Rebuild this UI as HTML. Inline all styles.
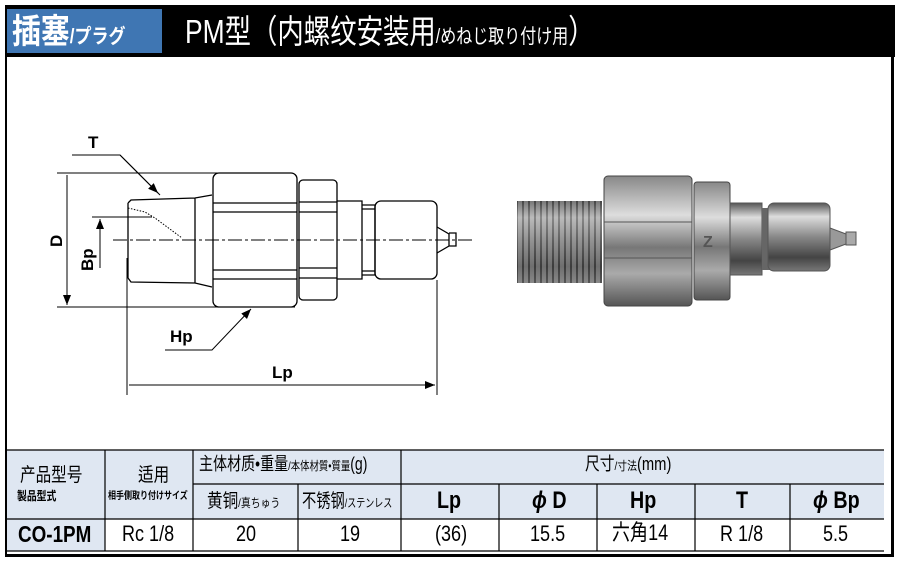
<!DOCTYPE html>
<html><head><meta charset="utf-8"><style>
body{margin:0;width:900px;height:567px;background:#fff;overflow:hidden;font-family:"Liberation Sans","Noto Sans CJK JP",sans-serif}
.t{position:absolute;font-family:"Liberation Sans","Noto Sans CJK JP",sans-serif;white-space:nowrap;line-height:1.1}
.c{transform:scaleX(.82);transform-origin:0 0}
</style></head><body>
<div style="position:absolute;left:5px;top:5px;width:890px;height:52px;background:#000"></div>
<div style="position:absolute;left:7px;top:9px;width:155px;height:44px;background:#3f76b3"></div>
<div class="t c" style="left:12px;top:12px;color:#fff;font-size:34px;font-weight:bold;line-height:40px;transform:scaleX(.85)">插塞<span style="font-size:20px">/プラグ</span></div>
<div class="t c" style="left:185px;top:12px;color:#fff;font-size:33px;line-height:40px;transform:scaleX(.8)">PM型（内螺纹安装用<span style="font-size:20px">/めねじ取り付け用</span>）</div>
<div style="position:absolute;left:5px;top:57px;width:884px;height:497px;border:2px solid #000;border-top:none;border-right:3px solid #000;border-bottom:3px solid #000"></div>

<svg style="position:absolute;left:0;top:0" width="900" height="567">
<defs>
<marker id="a" markerWidth="10" markerHeight="8" refX="10" refY="4" orient="auto" markerUnits="userSpaceOnUse"><path d="M0,0L10,4L0,8z" fill="#000"/></marker>
<linearGradient id="g" x1="0" y1="0" x2="0" y2="1"><stop offset="0" stop-color="#555"/><stop offset=".2" stop-color="#ddd"/><stop offset=".5" stop-color="#888"/><stop offset=".8" stop-color="#444"/><stop offset="1" stop-color="#777"/></linearGradient>
<linearGradient id="g2" x1="0" y1="0" x2="0" y2="1"><stop offset="0" stop-color="#888"/><stop offset=".3" stop-color="#ddd"/><stop offset=".55" stop-color="#777"/><stop offset=".75" stop-color="#aaa"/><stop offset="1" stop-color="#555"/></linearGradient>
<pattern id="th" width="6" height="10" patternUnits="userSpaceOnUse"><rect width="6" height="10" fill="#999"/><rect width="2" height="10" fill="#333"/></pattern>
</defs>
<g fill="none" stroke="#000" stroke-width="1.3">
<path d="M128,203L131,200L195,198L212,195M128,278L131,282L195,283L212,287M128,203V278M195,198V283"/>
<path d="M128,208L145,212L155,218L182,238" stroke-dasharray="1.5 1.5" stroke-width="1"/>
<rect x="213" y="173" width="84" height="134" rx="6"/>
<path d="M213,203H297M213,212H297M213,270H297M213,279H297"/>
<rect x="299" y="180" width="38" height="120" rx="4"/>
<path d="M299,202H337M299,212H337M299,268H337M299,278H337"/>
<path d="M337,201H362V279H337M362,205H375V275H362M362,209H375M362,271H375"/>
<rect x="375" y="201" width="62" height="78" rx="6"/>
<path d="M437,227L449,234V246L437,253M449,233H456V246H449"/>
<path d="M113,240H473" stroke-dasharray="14 3 3 3" stroke-width="1"/>
<path d="M72,155H120L160,195" stroke-width="1"/>
<path d="M120,155L158,193" marker-end="url(#a)" stroke-width="1"/>
<path d="M57,173H253M57,307H295M92,217H152M127,258V395M437,280V395" stroke-width="1"/>
<path d="M67,240V175M67,240V305" marker-end="url(#a)" stroke-width="1"/>
<path d="M100,268V219" marker-end="url(#a)" stroke-width="1"/>
<path d="M165,350H212L251,309" marker-end="url(#a)" stroke-width="1"/>
<path d="M282,385H129M282,385H435" marker-end="url(#a)" stroke-width="1"/>
</g>
<g font-family="Liberation Sans" font-weight="bold" font-size="17" fill="#000">
<text x="88" y="148">T</text>
<text x="170" y="342">Hp</text>
<text x="272" y="378">Lp</text>
<text transform="translate(62,247) rotate(-90)">D</text>
<text transform="translate(93,271) rotate(-90)">Bp</text>
</g>
<rect x="517" y="201" width="85" height="82" fill="url(#th)"/>
<rect x="517" y="201" width="85" height="82" fill="url(#g)" opacity=".5"/>
<rect x="604" y="176" width="88" height="130" rx="4" fill="url(#g2)" stroke="#444"/>
<path d="M604,222H692M604,258H692" stroke="#555"/>
<rect x="694" y="182" width="36" height="118" rx="3" fill="url(#g2)" stroke="#444"/>
<text x="703" y="247" font-size="16" fill="#555" font-weight="bold">Z</text>
<rect x="730" y="203" width="32" height="72" fill="url(#g)" stroke="#555"/>
<rect x="762" y="208" width="8" height="62" fill="#666"/>
<rect x="768" y="203" width="62" height="68" rx="6" fill="url(#g)" stroke="#555"/>
<path d="M830,228L846,234V244L830,250z" fill="#999" stroke="#555"/>
<rect x="846" y="232" width="10" height="13" fill="#aaa" stroke="#555"/>
<rect x="7" y="450" width="877" height="101" fill="#dfe7f2"/>
<rect x="105" y="519" width="779" height="32" fill="#fff"/>
<g stroke="#000" stroke-width="1.2">
<path d="M7,450H884M193,484H884M7,519H884M7,551H884"/>
<path d="M105,450V551M193,450V551M298,484V551M401,450V551M499,484V551M597,484V551M695,484V551M790,484V551"/>
</g>
</svg>
<div class="t c" style="left:20px;top:466px;font-size:19px">产品型号</div>
<div class="t c" style="left:17px;top:490px;font-size:12px;font-weight:bold">製品型式</div>
<div class="t c" style="left:138px;top:466px;font-size:19px">适用</div>
<div class="t" style="left:108px;top:491px;font-size:10px;font-weight:bold;transform:scaleX(.8);transform-origin:0 0">相手側取り付けサイズ</div>
<div class="t c" style="left:199px;top:455px;font-size:18px;transform:scaleX(.78)">主体材质•重量<span style="font-size:12px">/本体材質•質量</span>(g)</div>
<div class="t c" style="left:585px;top:455px;font-size:18px">尺寸<span style="font-size:12px">/寸法</span>(mm)</div>
<div class="t c" style="left:207px;top:492px;font-size:19px">黄铜<span style="font-size:12px">/真ちゅう</span></div>
<div class="t c" style="left:302px;top:492px;font-size:19px;transform:scaleX(.75)">不锈钢<span style="font-size:12px">/ステンレス</span></div>
<div class="t c" style="left:437px;top:488px;font-size:24px;font-weight:bold">Lp</div>
<div class="t c" style="left:532px;top:488px;font-size:24px;font-weight:bold"><i>ϕ</i> D</div>
<div class="t c" style="left:630px;top:488px;font-size:24px;font-weight:bold">Hp</div>
<div class="t c" style="left:736px;top:488px;font-size:24px;font-weight:bold">T</div>
<div class="t c" style="left:813px;top:488px;font-size:24px;font-weight:bold"><i>ϕ</i> Bp</div>
<div class="t c" style="left:18px;top:522px;font-size:23px;font-weight:bold">CO-1PM</div>
<div class="t c" style="left:122px;top:522px;font-size:22px">Rc 1/8</div>
<div class="t c" style="left:236px;top:522px;font-size:22px">20</div>
<div class="t c" style="left:340px;top:522px;font-size:22px">19</div>
<div class="t c" style="left:435px;top:522px;font-size:22px">(36)</div>
<div class="t c" style="left:530px;top:522px;font-size:22px">15.5</div>
<div class="t c" style="left:612px;top:520px;font-size:22px;line-height:26px">六角14</div>
<div class="t c" style="left:720px;top:522px;font-size:22px">R 1/8</div>
<div class="t c" style="left:823px;top:522px;font-size:22px">5.5</div>
</body></html>
